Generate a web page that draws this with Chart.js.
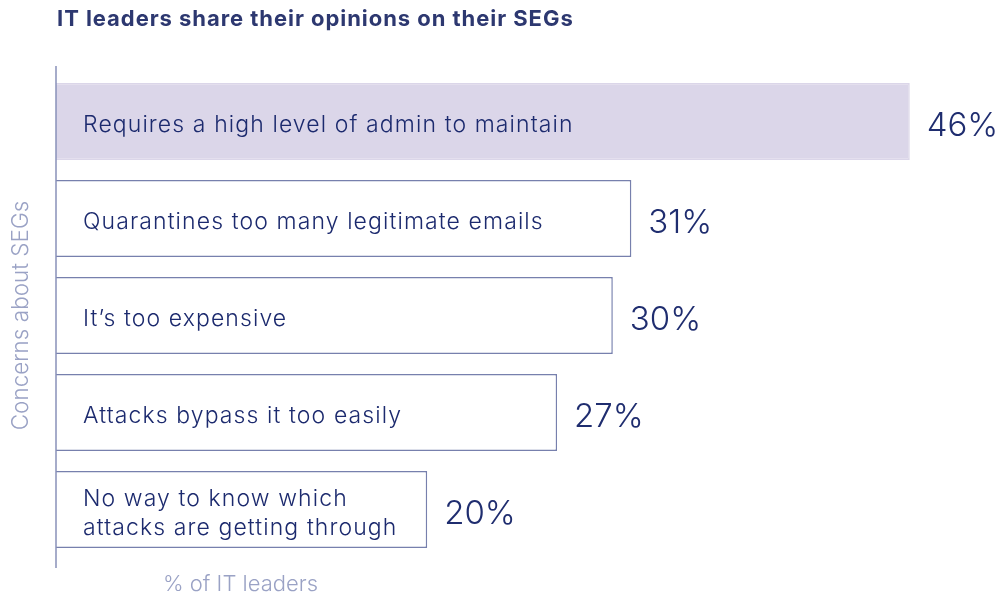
<!DOCTYPE html>
<html lang="en">
  <head>
    <meta charset="utf-8">
    <title>IT leaders share their opinions on their SEGs</title>
    <script src="https://cdn.jsdelivr.net/npm/chart.js@4.4.0/dist/chart.umd.min.js"></script>
    <style>
      body { margin: 0; background: #fff; }
      #wrap { position: relative; width: 1001px; height: 595px; }
      #title { position: absolute; left: 57px; top: 5px; font: 700 22px Inter, sans-serif; letter-spacing: 0.95px; color: #2d3870; margin: 0; }
      #xtitle { position: absolute; left: 163px; top: 570px; font: 300 22px Inter, sans-serif; color: #9aa2c5; }
      canvas { position: absolute; left: 0; top: 0; }
    </style>
  </head>
  <body>
    <div id="wrap">
      <canvas id="chart" width="1001" height="595"></canvas>
      <h1 id="title">IT leaders share their opinions on their SEGs</h1>
      <div id="xtitle">% of IT leaders</div>
    </div>
    <script>
      const categories = [
        ['Requires a high level of admin to maintain'],
        ['Quarantines too many legitimate emails'],
        ['It’s too expensive'],
        ['Attacks bypass it too easily'],
        ['No way to know which', 'attacks are getting through']
      ];
      const values = [46, 31, 30, 27, 20];
      const fills = ['#dbd6e9', '#ffffff', '#ffffff', '#ffffff', '#ffffff'];
      const borders = ['#dbd6e9', '#7780ad', '#7780ad', '#7780ad', '#7780ad'];

      const textPlugin = {
        id: 'barText',
        afterDatasetsDraw(chart) {
          const ctx = chart.ctx;
          const area = chart.chartArea;
          // axis line, slightly longer than the plot area
          ctx.save();
          ctx.strokeStyle = '#8990b8';
          ctx.lineWidth = 1.5;
          ctx.beginPath();
          ctx.moveTo(area.left, area.top - 7);
          ctx.lineTo(area.left, area.bottom + 10);
          ctx.stroke();

          chart.getDatasetMeta(0).data.forEach((bar, i) => {
            const lines = categories[i];
            ctx.fillStyle = '#1c2a6e';
            ctx.font = '300 23px Inter, sans-serif';
            ctx.letterSpacing = '1.1px';
            ctx.textBaseline = 'middle';
            ctx.textAlign = 'left';
            const lh = 29;
            lines.forEach((line, j) => {
              ctx.fillText(line, bar.base + 27, bar.y + 4 + (j - (lines.length - 1) / 2) * lh);
            });
            ctx.fillStyle = '#1f2d6f';
            ctx.letterSpacing = '0px';
            ctx.font = '300 33px Inter, sans-serif';
            ctx.fillText(values[i] + '%', bar.x + 17, bar.y + 5);
          });
          ctx.restore();
        }
      };

      const ctx = document.getElementById('chart').getContext('2d');
      new Chart(ctx, {
        type: 'bar',
        data: {
          labels: categories,
          datasets: [{
            data: values,
            backgroundColor: fills,
            borderColor: borders,
            borderWidth: 1.5,
            borderSkipped: 'left',
            categoryPercentage: 1,
            barPercentage: 0.794
          }]
        },
        options: {
          indexAxis: 'y',
          responsive: false,
          animation: false,
          devicePixelRatio: 1,
          layout: { padding: { left: 8, top: 73, right: 17, bottom: 37 } },
          plugins: { legend: { display: false }, tooltip: { enabled: false } },
          scales: {
            x: {
              display: false,
              min: 0,
              max: 50
            },
            y: {
              grid: { display: false, drawTicks: false },
              border: { display: false },
              ticks: { display: false },
              title: {
                display: true,
                text: 'Concerns about SEGs',
                color: '#9aa2c5',
                font: { family: 'Inter', size: 22.5, weight: '300', lineHeight: 1.2 },
                padding: { top: 0, bottom: 21 }
              }
            }
          }
        },
        plugins: [textPlugin]
      });
    </script>
  </body>
</html>
